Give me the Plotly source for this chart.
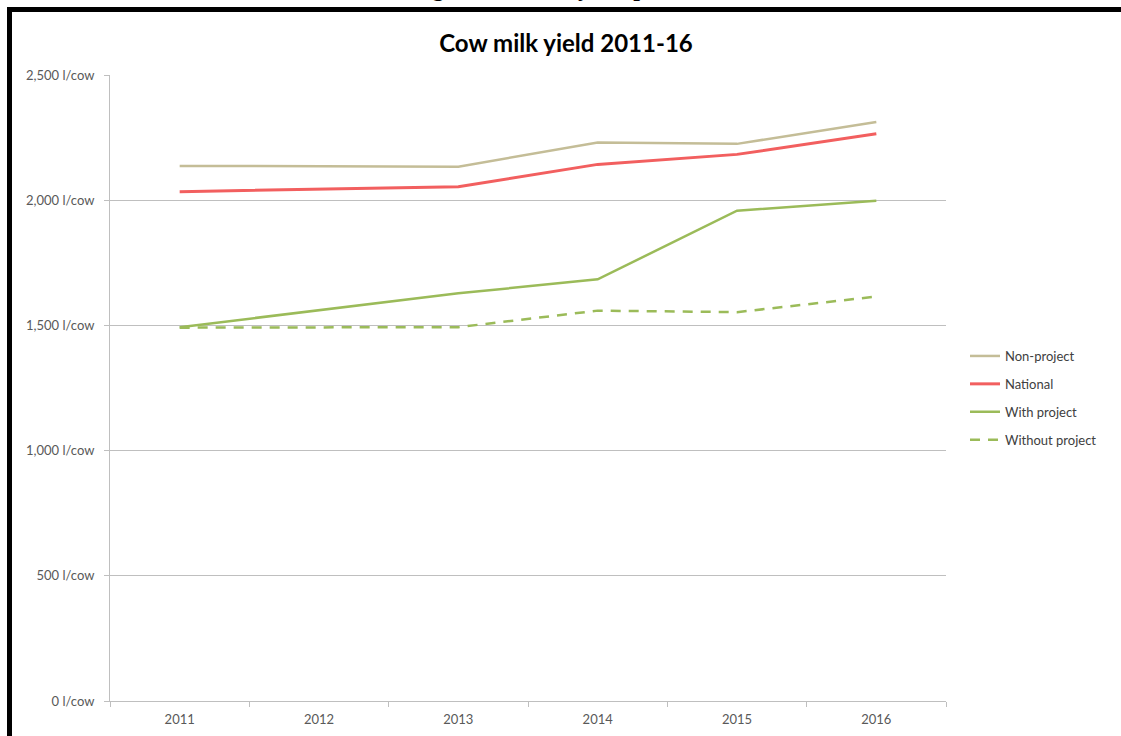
import plotly.graph_objects as go

years = ["2011", "2012", "2013", "2014", "2015", "2016"]
non_project = [2137, 2135, 2134, 2230, 2225, 2312]
national = [2034, 2043, 2054, 2143, 2183, 2265]
with_project = [1493, 1562, 1628, 1684, 1958, 1998]
without_project = [1491, 1491, 1493, 1559, 1553, 1615]
y_ticks = [0, 500, 1000, 1500, 2000, 2500]
y_tick_text = [f"{v:,} l/cow" for v in y_ticks]

W, H = 1121, 736
L, R, T, B = 110, 175, 75, 35
PW, PH = W - L - R, H - T - B

def px_x(px):
    return (px - L) / PW

def px_y(py):
    return (H - B - py) / PH

green = "#9BBB59"
fig = go.Figure()
series = [
    ("Non-project", non_project, "#C4BD97", "solid", 2.5),
    ("National", national, "#F25F5F", "solid", 3),
    ("With project", with_project, green, "solid", 2.5),
    ("Without project", without_project, green, "10px,8px", 2.5),
]
for i, (name, vals, col, dash, w) in enumerate(series):
    fig.add_trace(go.Scatter(
        x=years, y=vals, name=name, mode="lines", legendgroup=f"g{i}",
        line=dict(color=col, width=w, dash=dash),
    ))

axis_col = "#BFBFBF"
tick_font = dict(family="Lato, Carlito, sans-serif", size=13, color="#595959")
fig.update_layout(
    width=W, height=H,
    margin=dict(l=L, r=R, t=T, b=B, pad=0, autoexpand=False),
    paper_bgcolor="white", plot_bgcolor="white",
    title=dict(text="<b>Cow milk yield 2011-16</b>", x=566 / W, xref="container",
               y=1 - 44 / H, yref="container", xanchor="center", yanchor="middle",
               font=dict(family="Lato, sans-serif", size=24, color="#000000")),
    xaxis=dict(type="category", range=[-0.5, 5.5], showgrid=False, showline=True,
               linecolor=axis_col, linewidth=1, ticks="outside", tickson="boundaries",
               ticklen=5, tickcolor=axis_col, tickfont=tick_font, zeroline=False,
               ticklabelstandoff=6, automargin=False),
    yaxis=dict(range=[0, 2500], tickmode="array", tickvals=y_ticks, ticktext=y_tick_text,
               showgrid=True, gridcolor=axis_col, gridwidth=1, showline=True,
               linecolor=axis_col, ticks="outside", ticklen=5, tickcolor=axis_col,
               tickfont=tick_font, zeroline=False, ticklabelstandoff=7, automargin=False),
    legend=dict(x=px_x(965), xanchor="left", y=px_y(398), yanchor="middle",
                font=dict(family="Lato, sans-serif", size=13, color="#404040"),
                tracegroupgap=8, bgcolor="rgba(0,0,0,0)"),
    showlegend=True,
)

fig.add_annotation(
    text="<b>Figure 14: Milk yield per cow</b>", xref="paper", yref="paper",
    x=px_x(562), y=px_y(3), xanchor="center", yanchor="bottom", showarrow=False,
    font=dict(family="Liberation Serif, Times New Roman, serif", size=24, color="black"),
)

# page frame lines (top and left)
fig.add_shape(type="line", xref="paper", yref="paper",
              x0=px_x(7), x1=px_x(W + 5), y0=px_y(9.5), y1=px_y(9.5),
              line=dict(color="black", width=5))
fig.add_shape(type="line", xref="paper", yref="paper",
              x0=px_x(9.5), x1=px_x(9.5), y0=px_y(7), y1=px_y(H + 5),
              line=dict(color="black", width=5))

fig.write_html("out.html")
